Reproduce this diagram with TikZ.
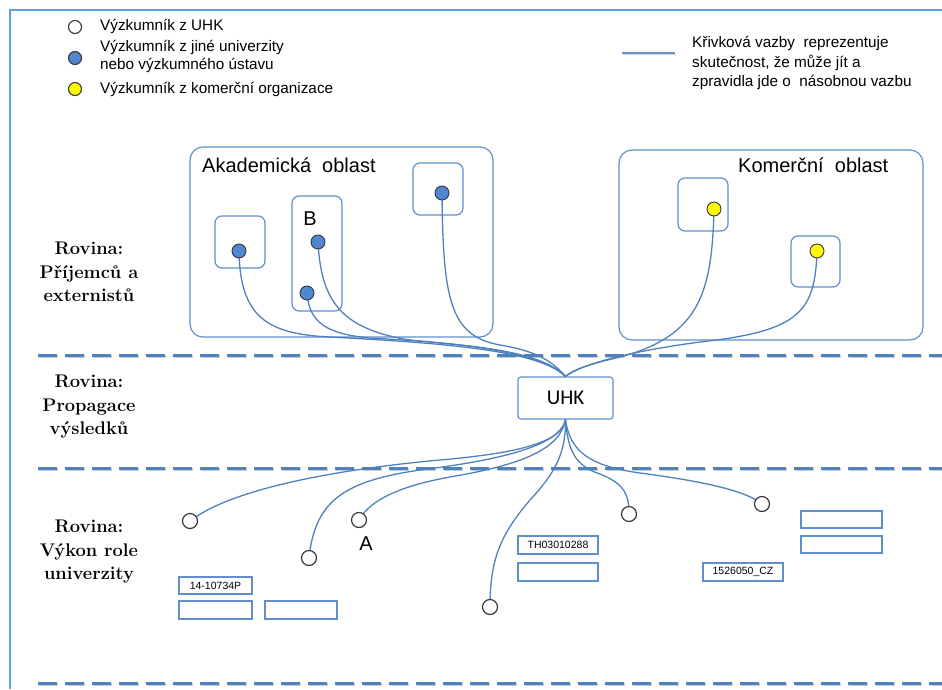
\documentclass[tikz,border=0pt]{standalone}
\usepackage{fontspec}
\newfontfamily\arial{Liberation Sans}
\newfontfamily\carl{Carlito}
\definecolor{framec}{RGB}{100,158,218}
\definecolor{boxc}{RGB}{95,143,205}
\definecolor{linkc}{RGB}{79,129,189}
\definecolor{dashc}{RGB}{79,129,189}
\definecolor{dotblue}{RGB}{80,135,210}
\definecolor{dotedge}{RGB}{55,55,60}
\definecolor{yel}{RGB}{255,250,0}
\tikzset{
  frameline/.style={draw=framec, line width=1.8pt},
  region/.style={draw=boxc, line width=1.2pt, rounded corners=13pt, inner sep=0pt},
  subbox/.style={draw=boxc, line width=1.2pt, rounded corners=7pt, inner sep=0pt},
  uhkbox/.style={draw=boxc, line width=1.2pt, rounded corners=3pt, minimum width=95pt, minimum height=42pt, inner sep=0pt, font=\carl\fontsize{21}{24}\selectfont},
  link/.style={draw=linkc, line width=1.3pt},
  dashline/.style={draw=dashc, line width=3pt, dash pattern=on 19pt off 8pt},
  dashshadow/.style={draw=black!45, opacity=0.45, line width=3pt, dash pattern=on 19pt off 8pt},
  bluedot/.style={circle, draw=dotedge, fill=dotblue, line width=0.9pt, minimum size=14pt, inner sep=0pt},
  yeldot/.style={circle, draw=dotedge, fill=yel, line width=0.9pt, minimum size=14pt, inner sep=0pt},
  whitedot/.style={circle, draw=dotedge, fill=white, line width=1.2pt, minimum size=15pt, inner sep=0pt},
  legdot/.style={circle, draw=dotedge, line width=1.1pt, minimum size=13pt, inner sep=0pt},
  legtext/.style={anchor=west, inner sep=0pt, align=left, font=\arial\fontsize{15.3}{18}\selectfont},
  codebox/.style={draw=boxc, line width=1.3pt, inner sep=0pt, font=\arial\fontsize{10.5}{12}\selectfont},
  rowlabel/.style={align=center, inner sep=0pt, font=\bfseries\fontsize{18.3}{23.5}\selectfont},
  bigletter/.style={inner sep=0pt, font=\arial\fontsize{20}{22}\selectfont},
  regiontitle/.style={anchor=west, inner sep=0pt, font=\arial\fontsize{20}{22}\selectfont}
}
\begin{document}
\begin{tikzpicture}[x=1pt,y=-1pt]
\useasboundingbox (0,0) rectangle (942,689);
% outer frame
\draw[frameline] (10,689) -- (10,10) -- (942,10);

% legend
\node[legdot, fill=white] (lg1) at (75,27) {};
\node[legdot, fill=dotblue] (lg2) at (75,58) {};
\node[legdot, fill=yel] (lg3) at (75,89) {};
\node[legtext] (lt1) at (100,26) {Výzkumník z UHK};
\node[legtext] (lt2) at (100,56) {Výzkumník z jiné univerzity\\nebo výzkumného ústavu};
\node[legtext] (lt3) at (100,89) {Výzkumník z komerční organizace};
\coordinate (ll1) at (622,53);
\coordinate (ll2) at (675,53);
\draw[draw=black!40, opacity=0.4, line width=1.8pt] ([shift={(0.5,1.5)}]ll1) -- ([shift={(0.5,1.5)}]ll2);
\draw[draw=linkc!85, line width=1.8pt] (ll1) -- (ll2);
\node[legtext, font=\arial\fontsize{15.3}{19.5}\selectfont] (lt4) at (692,63) {Křivková vazby~~reprezentuje\\skutečnost, že může jít a\\zpravidla jde o~~násobnou vazbu};

% dashed separators
\foreach \yy/\nm in {355/s1,468/s2,683/s3}{
  \coordinate (\nm a) at (38,\yy);
  \coordinate (\nm b) at (942,\yy);
  \draw[dashshadow] ([shift={(0.8,1.6)}]\nm a) -- ([shift={(0.8,1.6)}]\nm b);
  \draw[dashline] (\nm a) -- (\nm b);
}

% row labels
\node[rowlabel] (row1) at (89,272) {Rovina:\\Příjemců a\\externistů};
\node[rowlabel] (row2) at (89,407) {Rovina:\\Propagace\\výsledků};
\node[rowlabel] (row3) at (89,552) {Rovina:\\Výkon role\\univerzity};

% regions
\node[region, minimum width=303pt, minimum height=190pt] (akad) at (341.5,242) {};
\node[regiontitle] (akadt) at (202,165) {Akademická~~oblast};
\node[region, minimum width=304pt, minimum height=190pt] (kom) at (771,245) {};
\node[regiontitle] (komt) at (738,165) {Komerční~~oblast};

\node[subbox, minimum width=50pt, minimum height=52pt] (sb1) at (240,242) {};
\node[subbox, minimum width=50pt, minimum height=115pt] (sb2) at (317,253.5) {};
\node[subbox, minimum width=50pt, minimum height=52pt] (sb3) at (438,189) {};
\node[subbox, minimum width=50pt, minimum height=53pt] (sk1) at (703,204.5) {};
\node[subbox, minimum width=49pt, minimum height=51pt] (sk2) at (815.5,261.5) {};
\node[bigletter] (labB) at (310,219) {B};

% UHK
\node[uhkbox] (uhk) at (565.5,398) {UHK};

% dot coordinates
\coordinate (pd1) at (239,251);
\coordinate (pd2) at (307,293);
\coordinate (pd3) at (318,242);
\coordinate (pd4) at (442,193);
\coordinate (py1) at (714,209);
\coordinate (py2) at (817,251);
\coordinate (pw1) at (190,521);
\coordinate (pw2) at (309,558);
\coordinate (pw3) at (359,520);
\coordinate (pw4) at (490,607);
\coordinate (pw5) at (629,514);
\coordinate (pw6) at (762,504);

% upper links
\draw[link] (pd1) .. controls (240,318) and (268,334) .. (330,337) .. controls (420,342) and (538,348) .. (uhk.north);
\draw[link] (pd2) .. controls (309,322) and (326,334) .. (370,338) .. controls (440,342) and (536,348) .. (uhk.north);
\draw[link] (pd3) .. controls (321,300) and (340,329) .. (410,340) .. controls (470,346) and (540,350) .. (uhk.north);
\draw[link] (pd4) .. controls (443,300) and (450,336) .. (500,345) .. controls (530,350) and (550,358) .. (uhk.north);
\draw[link] (py1) .. controls (712,292) and (700,336) .. (620,357) .. controls (595,363) and (575,368) .. (uhk.north);
\draw[link] (py2) .. controls (815,312) and (800,331) .. (700,342) .. controls (640,350) and (585,362) .. (uhk.north);

% lower links
\draw[link] (uhk.south) .. controls (562,442) and (520,453) .. (440,460) .. controls (330,470) and (230,490) .. (pw1);
\draw[link] (uhk.south) .. controls (560,446) and (500,460) .. (420,470) .. controls (345,481) and (315,500) .. (pw2);
\draw[link] (uhk.south) .. controls (560,450) and (520,465) .. (450,477) .. controls (400,486) and (370,500) .. (pw3);
\draw[link] (uhk.south) .. controls (566,452) and (556,472) .. (530,500) .. controls (500,535) and (490,560) .. (pw4);
\draw[link] (uhk.south) .. controls (568,452) and (576,466) .. (600,474) .. controls (625,484) and (629,495) .. (pw5);
\draw[link] (uhk.south) .. controls (570,452) and (590,466) .. (640,473) .. controls (700,481) and (745,490) .. (pw6);

% dots
\node[bluedot] (d1) at (pd1) {};
\node[bluedot] (d2) at (pd2) {};
\node[bluedot] (d3) at (pd3) {};
\node[bluedot] (d4) at (pd4) {};
\node[yeldot] (y1) at (py1) {};
\node[yeldot] (y2) at (py2) {};
\node[whitedot] (w1) at (pw1) {};
\node[whitedot] (w2) at (pw2) {};
\node[whitedot] (w3) at (pw3) {};
\node[whitedot] (w4) at (pw4) {};
\node[whitedot] (w5) at (pw5) {};
\node[whitedot] (w6) at (pw6) {};
\node[bigletter] (labA) at (366,544) {A};

% code boxes
\node[codebox, minimum width=73pt, minimum height=17pt] (c1) at (215.5,585.5) {14-10734P};
\node[codebox, minimum width=73pt, minimum height=18pt] (c2) at (215.5,610) {};
\node[codebox, minimum width=72pt, minimum height=18pt] (c3) at (301,610) {};
\node[codebox, minimum width=80pt, minimum height=18pt] (c4) at (558,545) {TH03010288};
\node[codebox, minimum width=80pt, minimum height=18pt] (c5) at (558,572) {};
\node[codebox, minimum width=80pt, minimum height=18pt] (c6) at (743,572) {1526050\_CZ};
\node[codebox, minimum width=81pt, minimum height=17pt] (c7) at (841.5,519.5) {};
\node[codebox, minimum width=81pt, minimum height=17pt] (c8) at (841.5,544.5) {};
\end{tikzpicture}
\end{document}
